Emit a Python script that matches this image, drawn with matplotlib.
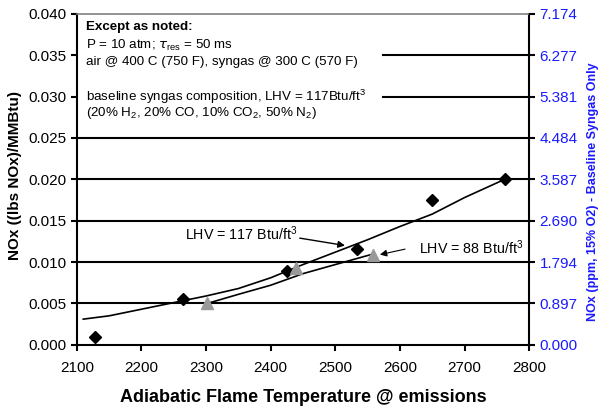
import numpy as np
import matplotlib
matplotlib.use("Agg")
import matplotlib.pyplot as plt

plt.rcParams['font.family'] = ['Liberation Sans', 'DejaVu Sans']

# measured points
t_117 = [2128, 2264, 2426, 2534, 2649, 2762]
nox_117 = [0.0010, 0.0055, 0.0089, 0.0116, 0.0175, 0.0200]
t_88 = [2302, 2439, 2559]
nox_88 = [0.0051, 0.0093, 0.0108]

# model curves
t_line117 = [2110, 2150, 2200, 2250, 2300, 2350, 2400, 2450, 2500, 2550, 2600, 2650, 2700, 2762]
nox_line117 = [0.0031, 0.0035, 0.0043, 0.0051, 0.0059, 0.0068, 0.0081, 0.0097,
               0.0112, 0.0127, 0.0143, 0.0158, 0.0178, 0.0200]
t_line88 = [2302, 2350, 2400, 2450, 2500, 2555]
nox_line88 = [0.0050, 0.0061, 0.0072, 0.0086, 0.0097, 0.0109]

xticks = [2100, 2200, 2300, 2400, 2500, 2600, 2700, 2800]
yticks = [0.000, 0.005, 0.010, 0.015, 0.020, 0.025, 0.030, 0.035, 0.040]
right_labels = ['0.000', '0.897', '1.794', '2.690', '3.587', '4.484', '5.381', '6.277', '7.174']

fig = plt.figure(figsize=(6, 4.09), dpi=100)
ax = fig.add_axes([0.128, 0.157, 0.754, 0.809])

# gridlines (upper two hidden behind the note box on the left)
for y in yticks[1:6]:
    ax.axhline(y, color='black', lw=1.5, zorder=1)
for y in yticks[6:8]:
    ax.axhline(y, xmin=0.677, xmax=1, color='black', lw=1.5, zorder=1)

ax.plot(t_line117, nox_line117, color='black', lw=1.2, zorder=2)
ax.plot(t_line88, nox_line88, color='black', lw=1.2, zorder=2)
ax.plot(t_117, nox_117, 'D', color='black', ms=6.5, zorder=3)
ax.plot(t_88, nox_88, '^', color='#999999', ms=9, zorder=3)

ax.set_xlim(2100, 2800)
ax.set_ylim(0, 0.040)
ax.set_xticks(xticks)
ax.set_yticks(yticks)
ax.set_yticklabels([f'{v:.3f}' for v in yticks])
ax.tick_params(axis='both', labelsize=11, direction='out', length=4, width=1.5)
ax.tick_params(axis='x', pad=8)
for s in ['left', 'bottom', 'right']:
    ax.spines[s].set_linewidth(1.5)
ax.spines['top'].set_color('#808080')
ax.spines['top'].set_linewidth(1.2)

ax.set_xlabel('Adiabatic Flame Temperature @ emissions', fontsize=13, fontweight='bold', labelpad=10)
fig.text(15 / 600, 1 - 175 / 409, 'NOx ((lbs NOx)/MMBtu)', fontsize=11, fontweight='bold',
         rotation=90, ha='center', va='center')

ax2 = ax.twinx()
ax2.set_ylim(0, 0.040)
ax2.set_yticks(yticks)
ax2.set_yticklabels(right_labels)
ax2.tick_params(axis='y', labelsize=11, labelcolor='#1a1aff', direction='out', length=4, width=1.5)
for s in ax2.spines.values():
    s.set_visible(False)
fig.text(593 / 600, 1 - 192 / 409, 'NOx (ppm, 15% O2) - Baseline Syngas Only', fontsize=9,
         fontweight='bold', color='#1a1aff', rotation=90, ha='center', va='center')

# note box
tx = 2115
fs = 9.6
ax.text(tx, 0.0384, 'Except as noted:', fontsize=fs, fontweight='bold', va='center')
ax.text(tx, 0.0362, r'P = 10 atm; $\tau_{\mathregular{res}}$ = 50 ms', fontsize=fs, va='center')
ax.text(tx, 0.0342, 'air @ 400 C (750 F), syngas @ 300 C (570 F)', fontsize=fs, va='center')
ax.text(tx, 0.0300, r'baseline syngas composition, LHV = 117Btu/ft$^{\mathregular{3}}$', fontsize=fs, va='center')
ax.text(tx, 0.0280, r'(20% H$_{\mathregular{2}}$, 20% CO, 10% CO$_{\mathregular{2}}$, 50% N$_{\mathregular{2}}$)',
        fontsize=fs, va='center')

# annotations
ax.annotate(r'LHV = 117 Btu/ft$^{\mathregular{3}}$', xy=(2515, 0.0120), xytext=(2267, 0.0134),
            fontsize=10.3, va='center',
            arrowprops=dict(arrowstyle='-|>', color='black', lw=1, mutation_scale=10,
                            shrinkA=0, shrinkB=0, relpos=(1, 0.3)))
ax.annotate(r'LHV = 88 Btu/ft$^{\mathregular{3}}$', xy=(2569, 0.0109), xytext=(2629, 0.0117),
            fontsize=10.3, va='center',
            arrowprops=dict(arrowstyle='-|>', color='black', lw=0.8, mutation_scale=10,
                            shrinkA=8, shrinkB=0, relpos=(0, 0.6)))

fig.savefig('out.png', dpi=100)
